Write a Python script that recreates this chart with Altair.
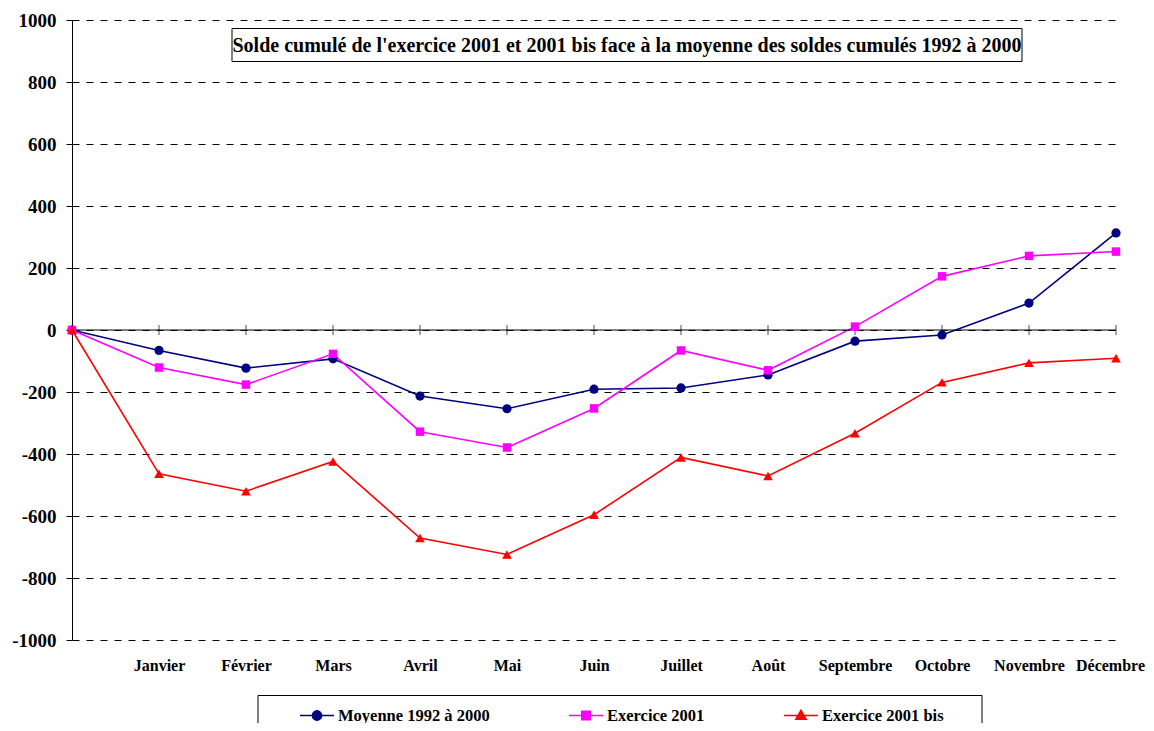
import altair as alt
import pandas as pd

FONT = "Liberation Serif"

months = ["", "Janvier", "Février", "Mars", "Avril", "Mai", "Juin", "Juillet",
          "Août", "Septembre", "Octobre", "Novembre", "Décembre"]
series_names = ["Moyenne 1992 à 2000", "Exercice 2001", "Exercice 2001 bis"]
moyenne = [0, -66, -123, -93, -213, -254, -191, -187, -145, -36, -16, 87, 313]
ex2001 = [0, -121, -176, -77, -328, -379, -253, -66, -130, 11, 173, 239, 253]
ex2001bis = [0, -464, -520, -424, -671, -724, -596, -411, -471, -333, -169, -106, -91]
colors = ["#000080", "#FF00FF", "#FF0000"]
shapes = ["circle", "square", "triangle-up"]
marker_sizes = [85, 72, 95]
legend_shapes = [
    "M-1,0H1M-0.27,0A0.27,0.27 0 1,1 0.27,0A0.27,0.27 0 1,1 -0.27,0Z",
    "M-1,0H1M-0.25,-0.25H0.25V0.25H-0.25Z",
    "M-1,0H1M0,-0.3L0.3,0.22H-0.3Z",
]
legend_x = [227, 496, 711]
y_ticks = list(range(-1000, 1001, 200))
title_text = "Solde cumulé de l'exercice 2001 et 2001 bis face à la moyenne des soldes cumulés 1992 à 2000"

rows = []
for name, vals in zip(series_names, [moyenne, ex2001, ex2001bis]):
    for i, v in enumerate(vals):
        rows.append({"idx": i, "mois": months[i], "serie": name, "valeur": v})
df = pd.DataFrame(rows)
ticks_df = pd.DataFrame({"idx": list(range(len(months)))})
one = pd.DataFrame({"a": [0]})

last = len(months) - 1
label_expr = "[" + ",".join("'" + m + "'" for m in months) + "][datum.value]"

x_scale = alt.Scale(domain=[0, last], nice=False, zero=False)
y_scale = alt.Scale(domain=[-1000, 1000], nice=False)

x_axis = alt.Axis(
    values=list(range(1, len(months))), labelExpr=label_expr, title=None,
    domain=False, ticks=False, grid=False, labelPadding=17,
    labelFont=FONT, labelFontSize=16, labelFontWeight="bold", labelColor="black",
    labelFlush=False, labelOverlap=False,
    labelOffset={"condition": {"test": f"datum.value == {last}", "value": -6}, "value": 0},
)
y_axis = alt.Axis(
    values=y_ticks, title=None, labelExpr="'' + datum.value",
    labelFont=FONT, labelFontSize=19, labelFontWeight="bold", labelColor="black",
    labelPadding=10, domainColor="black", domainWidth=1, tickColor="black",
    tickSize=6, tickWidth=1, grid=True, gridColor="black", gridDash=[7, 7],
    gridWidth=1, gridOpacity=1,
)

x_enc = alt.X("idx:Q", scale=x_scale, axis=x_axis)
y_enc = alt.Y("valeur:Q", scale=y_scale, axis=y_axis)

base = alt.Chart(df)

lines = base.mark_line(strokeWidth=1.6).encode(
    x=x_enc, y=y_enc,
    color=alt.Color("serie:N", scale=alt.Scale(domain=series_names, range=colors), legend=None),
)

point_layers = []
for name, col, shp, sz in zip(series_names, colors, shapes, marker_sizes):
    point_layers.append(
        base.transform_filter(alt.datum.serie == name)
        .mark_point(filled=True, shape=shp, size=sz, color=col, opacity=1)
        .encode(x=x_enc, y=y_enc)
    )

legend_layers = []
for name, col, path, lx in zip(series_names, colors, legend_shapes, legend_x):
    leg = alt.Legend(
        title=None, orient="none", legendX=lx, legendY=677.5,
        labelFont=FONT, labelFontSize=16.5, labelFontWeight="bold", labelColor="black",
        labelOffset=3, symbolSize=1156, symbolType=path, symbolStrokeWidth=1.6,
        symbolStrokeColor=col, symbolFillColor=col, padding=0, labelLimit=400,
    )
    legend_layers.append(
        base.transform_filter("false")
        .mark_point(filled=True, size=1156, opacity=1, strokeWidth=1.6)
        .encode(
            x=x_enc, y=y_enc,
            color=alt.Color("serie:N", scale=alt.Scale(domain=[name], range=[col]), legend=leg),
        )
    )

zero_rule = alt.Chart(one).mark_rule(color="black", strokeWidth=1).encode(
    y=alt.YDatum(0, scale=y_scale, axis=y_axis)
)
xticks = alt.Chart(ticks_df).mark_tick(orient="vertical", size=10, thickness=1, color="black").encode(
    x=x_enc, y=alt.YDatum(0, scale=y_scale, axis=y_axis)
)

title_box = alt.Chart(one).mark_rect(fill="white", stroke="black", strokeWidth=1).encode(
    x=alt.value(160), x2=alt.value(950), y=alt.value(8.5), y2=alt.value(41.5)
)
title_txt = alt.Chart(one).mark_text(
    font=FONT, fontSize=20, fontWeight="bold", color="black", align="center", baseline="middle"
).encode(x=alt.value(555), y=alt.value(25.5), text=alt.value(title_text))

legend_box = alt.Chart(one).mark_rect(fill="white", stroke="black", strokeWidth=1).encode(
    x=alt.value(186), x2=alt.value(910), y=alt.value(675.5), y2=alt.value(760)
)

chart = alt.layer(
    lines, legend_box, zero_rule, xticks, *point_layers, *legend_layers, title_box, title_txt
).resolve_scale(color="independent").properties(
    width=1044, height=620,
    padding={"left": 64, "top": 12, "right": 30, "bottom": 83},
    autosize=alt.AutoSizeParams(type="none"),
    background="white",
).configure_view(stroke=None).configure_axis(
    labelFont=FONT, labelFontWeight="bold", labelColor="black",
).configure_axisY(
    labelFont=FONT, labelFontSize=19,
)

chart.save("out.html", embed_options={"renderer": "svg", "actions": False})
